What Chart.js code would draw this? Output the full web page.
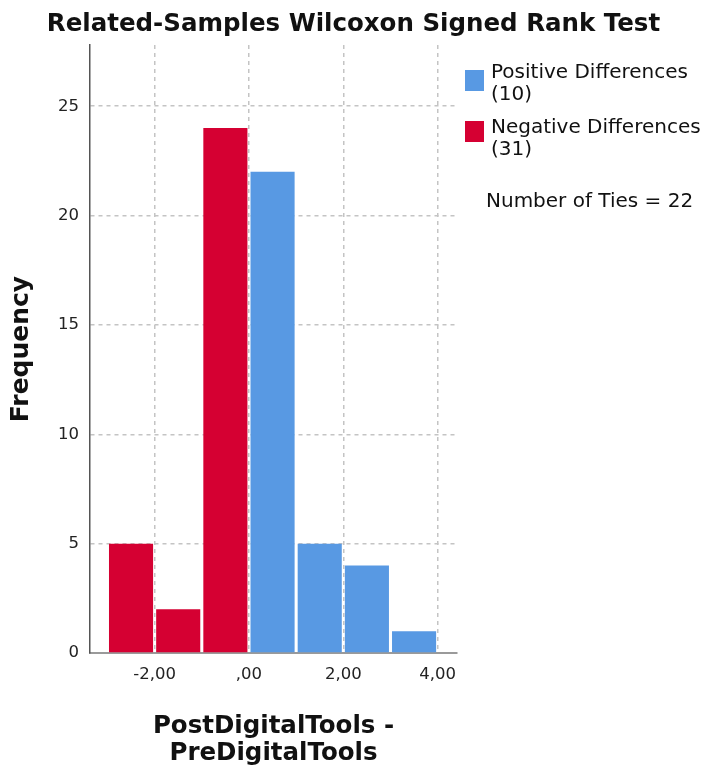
<!DOCTYPE html>
<html>
<head>
<meta charset="utf-8">
<script src="https://cdn.jsdelivr.net/npm/chart.js@4/dist/chart.umd.min.js"></script>
<style>
  html, body { margin: 0; padding: 0; background: #fff; }
  #wrap { position: relative; width: 707px; height: 767px; overflow: hidden; font-family: "DejaVu Sans", sans-serif; color: #111; }
  #chart { position: absolute; left: 0; top: 0; }
  #title { position: absolute; left: 0; top: 9px; width: 707px; text-align: center; font-weight: bold; font-size: 24.5px; line-height: 28px; white-space: nowrap; }
  .leg { position: absolute; font-size: 20px; line-height: 22px; white-space: nowrap; color: #111; }
  .sw { position: absolute; width: 19px; height: 21px; }
</style>
</head>
<body>
<div id="wrap">
  <canvas id="chart" width="707" height="767"></canvas>
  <div id="title">Related-Samples Wilcoxon Signed Rank Test</div>
  <div class="sw" style="left:465px;top:70px;background:#5899E3;"></div>
  <div class="leg" style="left:491px;top:60px;">Positive Differences<br>(10)</div>
  <div class="sw" style="left:465px;top:121px;background:#D50032;"></div>
  <div class="leg" style="left:491px;top:115px;">Negative Differences<br>(31)</div>
  <div class="leg" style="left:486px;top:189px;">Number of Ties = 22</div>
</div>
<script>
// Bin centres (bin width 1) and frequencies
const negativeBinCenters = [-2.5, -1.5, -0.5];
const negativeCounts = [5, 2, 24];
const positiveBinCenters = [0.5, 1.5, 2.5, 3.5];
const positiveCounts = [22, 5, 4, 1];
const xTickValues = [-2, 0, 2, 4];
const xTickLabels = ['-2,00', ',00', '2,00', '4,00'];
const yTickValues = [0, 5, 10, 15, 20, 25];

const negData = negativeBinCenters.map((x, i) => ({ x: x, y: negativeCounts[i] }));
const posData = positiveBinCenters.map((x, i) => ({ x: x, y: positiveCounts[i] }));

const FONT = '"DejaVu Sans", sans-serif';

new Chart(document.getElementById('chart'), {
  type: 'bar',
  data: {
    datasets: [
      { label: 'Negative Differences (31)', data: negData, backgroundColor: '#D50032', borderWidth: 0, grouped: false, barPercentage: 0.935, categoryPercentage: 1 },
      { label: 'Positive Differences (10)', data: posData, backgroundColor: '#5899E3', borderWidth: 0, grouped: false, barPercentage: 0.935, categoryPercentage: 1 }
    ]
  },
  options: {
    responsive: false,
    animation: false,
    layout: { padding: { left: 0, right: 250, top: 45, bottom: 0 } },
    plugins: {
      legend: { display: false },
      title: { display: false },
      tooltip: { enabled: false }
    },
    scales: {
      x: {
        type: 'linear',
        min: -3.37,
        max: 4.41,
        offset: false,
        afterBuildTicks: (s) => { s.ticks = xTickValues.map(v => ({ value: v })); },
        afterFit: (s) => { s.height = 114; },
        ticks: {
          callback: (v) => { const i = xTickValues.indexOf(v); return i >= 0 ? xTickLabels[i] : ''; },
          font: { family: FONT, size: 16.5 },
          color: '#222',
          padding: 12,
          maxRotation: 0,
          autoSkip: false
        },
        grid: { offset: false, color: '#c4c4c4', lineWidth: 1.5, drawTicks: false },
        border: { display: true, color: '#9a9a9a', width: 2, dash: [4, 4] },
        title: {
          display: true,
          text: ['PostDigitalTools -', 'PreDigitalTools'],
          font: { family: FONT, size: 24.5, weight: 'bold', lineHeight: 1.1 },
          color: '#111',
          padding: { top: 0, bottom: 0 }
        }
      },
      y: {
        type: 'linear',
        min: 0,
        max: 27.8,
        afterBuildTicks: (s) => { s.ticks = yTickValues.map(v => ({ value: v })); },
        afterFit: (s) => { s.width = 90; },
        ticks: {
          font: { family: FONT, size: 16.5 },
          color: '#222',
          padding: 11
        },
        grid: { color: '#c4c4c4', lineWidth: 1.5, drawTicks: false },
        border: { display: true, color: '#555', width: 1.5, dash: [4, 4] },
        title: {
          display: true,
          text: 'Frequency',
          font: { family: FONT, size: 25, weight: 'bold', lineHeight: 1.1 },
          color: '#111',
          padding: { top: 8, bottom: 0 }
        }
      }
    }
  }
});
</script>
</body>
</html>
